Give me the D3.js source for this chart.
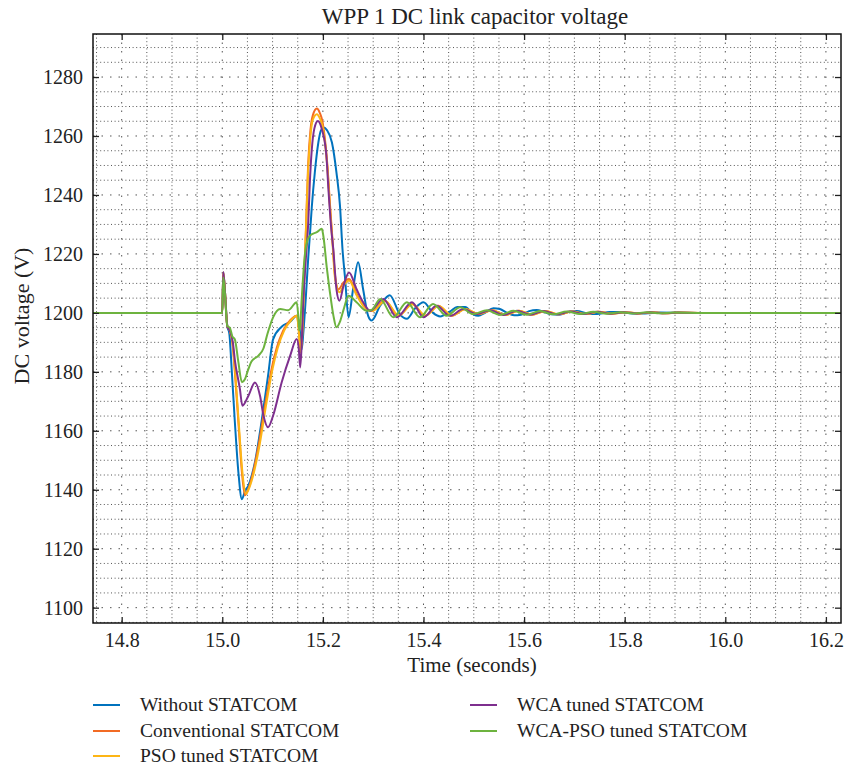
<!DOCTYPE html>
<html>
<head>
<meta charset="utf-8">
<script src="https://cdn.jsdelivr.net/npm/d3@7/dist/d3.min.js"></script>
<style>
  html, body { margin: 0; padding: 0; background: #fff; }
  svg { display: block; font-family: "Liberation Serif", "DejaVu Serif", serif; }
</style>
</head>
<body>
<svg id="chart" width="844" height="771"></svg>
<script>
// WPP 1 DC link capacitor voltage — time samples [s, V] for each controller case
const withoutStatcom = [[14.743,1200],[15.000,1200],[15.002,1213.8],[15.005,1208],[15.010,1195.5],[15.014,1193],[15.019,1180],[15.025,1163],[15.032,1146],[15.039,1136.8],[15.045,1139.5],[15.052,1141.5],[15.065,1149.4],[15.078,1163],[15.091,1178.7],[15.101,1191],[15.118,1195.3],[15.135,1197],[15.148,1199],[15.153,1196],[15.158,1187.7],[15.161,1193],[15.166,1205],[15.171,1219],[15.174,1226],[15.178,1236],[15.184,1247.7],[15.191,1257.8],[15.196,1261.8],[15.202,1262.9],[15.208,1262],[15.218,1257.8],[15.227,1247.6],[15.234,1236.3],[15.239,1221.6],[15.244,1212],[15.251,1198.5],[15.260,1208],[15.270,1217.2],[15.280,1208],[15.290,1199],[15.297,1197.4],[15.314,1202.5],[15.333,1206],[15.353,1199.5],[15.367,1198],[15.383,1201.5],[15.400,1203.6],[15.419,1200],[15.433,1198.8],[15.453,1200.5],[15.467,1202],[15.483,1202],[15.499,1199.5],[15.509,1199],[15.522,1200],[15.539,1201.6],[15.552,1201.3],[15.566,1200],[15.580,1199.2],[15.594,1199.4],[15.610,1200.6],[15.625,1201],[15.640,1200.3],[15.655,1199.5],[15.670,1199.4],[15.690,1200.4],[15.705,1200.6],[15.725,1199.8],[15.745,1199.6],[15.770,1200.3],[15.790,1200.3],[15.815,1199.8],[15.840,1199.8],[15.870,1200.1],[15.920,1200],[16.230,1200]];

const conventionalStatcom = [[14.743,1200],[15.000,1200],[15.002,1213.8],[15.005,1208],[15.010,1195.5],[15.015,1194],[15.020,1190],[15.025,1180],[15.032,1163],[15.039,1146],[15.045,1138.1],[15.050,1139.5],[15.058,1143.7],[15.072,1155],[15.085,1168.6],[15.098,1181],[15.108,1188],[15.121,1194],[15.135,1197.5],[15.148,1199],[15.152,1195],[15.155,1188],[15.158,1190],[15.162,1208],[15.1666,1230],[15.1706,1250],[15.1753,1262],[15.180,1267],[15.188,1269.3],[15.194,1267.8],[15.199,1265],[15.204,1259],[15.209,1250],[15.214,1237],[15.219,1225],[15.224,1213],[15.231,1208],[15.241,1210.3],[15.252,1211.5],[15.267,1206.5],[15.280,1202.5],[15.297,1200.7],[15.323,1204.1],[15.350,1199],[15.377,1203],[15.403,1199],[15.429,1202.4],[15.456,1199],[15.483,1201.3],[15.509,1199.6],[15.536,1200.9],[15.562,1199.3],[15.589,1200.7],[15.615,1199.4],[15.642,1200.6],[15.668,1199.5],[15.695,1200.45],[15.721,1199.6],[15.748,1200.35],[15.774,1199.7],[15.801,1200.25],[15.827,1199.8],[15.854,1200.2],[15.880,1199.85],[15.907,1200.1],[15.950,1200],[16.230,1200]];

const psoStatcom = [[14.743,1200],[15.000,1200],[15.002,1213.5],[15.005,1208],[15.010,1195.5],[15.015,1194],[15.021,1189],[15.026,1179],[15.033,1162],[15.040,1146],[15.047,1138.6],[15.052,1140],[15.060,1144],[15.074,1155],[15.087,1168.6],[15.100,1181],[15.110,1188],[15.123,1194],[15.137,1197.5],[15.148,1199],[15.152,1194],[15.155,1186.5],[15.158,1190],[15.162,1207],[15.1666,1229],[15.1706,1248],[15.1753,1260],[15.180,1265.5],[15.188,1267.4],[15.194,1266],[15.199,1263.5],[15.204,1258],[15.209,1249],[15.214,1236],[15.219,1224],[15.224,1212],[15.233,1207],[15.242,1209.5],[15.252,1211],[15.267,1206],[15.280,1202.5],[15.298,1200.6],[15.324,1204],[15.351,1199.1],[15.378,1202.9],[15.404,1199.1],[15.430,1202.3],[15.457,1199.1],[15.484,1201.3],[15.510,1199.6],[15.537,1200.9],[15.563,1199.3],[15.590,1200.7],[15.616,1199.4],[15.643,1200.6],[15.669,1199.5],[15.696,1200.45],[15.722,1199.6],[15.749,1200.35],[15.775,1199.7],[15.802,1200.25],[15.828,1199.8],[15.855,1200.2],[15.881,1199.85],[15.908,1200.1],[15.950,1200],[16.230,1200]];

const wcaStatcom = [[14.743,1200],[15.000,1200],[15.002,1213.8],[15.005,1208],[15.010,1195.5],[15.015,1194],[15.021,1190],[15.025,1184],[15.035,1174.2],[15.040,1168.5],[15.052,1171.9],[15.065,1176.4],[15.075,1171.9],[15.082,1165.1],[15.091,1161.2],[15.101,1165.1],[15.118,1176.4],[15.135,1185.5],[15.148,1191.1],[15.152,1188],[15.155,1181.5],[15.158,1190],[15.161,1204],[15.166,1218],[15.171,1231],[15.174,1244],[15.178,1255.5],[15.183,1262.5],[15.190,1265.1],[15.198,1262.3],[15.207,1253.3],[15.211,1242],[15.2167,1228.4],[15.2207,1221.6],[15.227,1208],[15.233,1204.1],[15.241,1209.2],[15.252,1213.7],[15.267,1208],[15.280,1203.6],[15.294,1200.7],[15.320,1204.7],[15.347,1198.5],[15.377,1203.6],[15.400,1198.5],[15.426,1202.4],[15.453,1199],[15.479,1201.3],[15.506,1199.6],[15.533,1200.9],[15.559,1199.3],[15.586,1200.7],[15.612,1199.4],[15.639,1200.6],[15.665,1199.5],[15.692,1200.45],[15.718,1199.6],[15.745,1200.35],[15.771,1199.7],[15.798,1200.25],[15.824,1199.8],[15.851,1200.2],[15.877,1199.85],[15.904,1200.1],[15.950,1200],[16.230,1200]];

const wcaPsoStatcom = [[14.743,1200],[15.000,1200],[15.002,1212],[15.005,1207],[15.010,1195.5],[15.015,1195],[15.020,1192],[15.025,1191],[15.032,1183.3],[15.039,1176.5],[15.045,1177.5],[15.052,1181],[15.058,1183.5],[15.072,1185.5],[15.082,1188],[15.090,1193],[15.101,1198.5],[15.115,1201.3],[15.131,1200.9],[15.148,1203.6],[15.151,1199],[15.153,1194],[15.155,1196],[15.158,1205],[15.164,1219.4],[15.170,1225],[15.175,1226.3],[15.188,1227.4],[15.198,1228.5],[15.201,1226],[15.208,1215],[15.214,1207],[15.221,1199],[15.227,1195.1],[15.234,1197],[15.241,1201],[15.251,1205.8],[15.267,1203.6],[15.287,1200.7],[15.297,1201],[15.314,1204.7],[15.340,1198.5],[15.367,1203.6],[15.393,1198.5],[15.419,1203],[15.446,1199],[15.473,1201.9],[15.499,1199.6],[15.526,1200.9],[15.552,1199.3],[15.579,1200.7],[15.605,1199.4],[15.632,1200.6],[15.658,1199.5],[15.685,1200.45],[15.711,1199.6],[15.738,1200.35],[15.764,1199.7],[15.791,1200.25],[15.817,1199.8],[15.844,1200.2],[15.870,1199.85],[15.897,1200.1],[15.950,1200],[16.230,1200]];

const seriesNames = ["Without STATCOM", "Conventional STATCOM", "PSO tuned STATCOM", "WCA tuned STATCOM", "WCA-PSO tuned STATCOM"];
const seriesData = [withoutStatcom, conventionalStatcom, psoStatcom, wcaStatcom, wcaPsoStatcom];
const seriesColors = ["#0072BD", "#F26B24", "#FDB515", "#7E2F8E", "#6DB33F"];

const xTicks = [14.8, 15.0, 15.2, 15.4, 15.6, 15.8, 16.0, 16.2];
const yTicks = [1100, 1120, 1140, 1160, 1180, 1200, 1220, 1240, 1260, 1280];
const xDomain = [14.743, 16.23];
const yDomain = [1094.8, 1294.6];

const titleText = "WPP 1 DC link capacitor voltage";
const xLabel = "Time (seconds)";
const yLabel = "DC voltage (V)";

const svg = d3.select("#chart");
const plot = { left: 93, right: 841, top: 34, bottom: 623 };

const x = d3.scaleLinear().domain(xDomain).range([plot.left, plot.right]);
const y = d3.scaleLinear().domain(yDomain).range([plot.bottom, plot.top]);

// grid: minor every 0.05 s / 5 V (dense dots), major at labelled ticks (sparse dots)
const grid = svg.append("g");
const minorX = d3.range(14.75, 16.2301, 0.05).filter(v => !xTicks.some(t => Math.abs(t - v) < 1e-6));
const minorY = d3.range(1095, 1294.6, 5).filter(v => !yTicks.some(t => Math.abs(t - v) < 1e-6));

grid.selectAll(".vmin").data(minorX).join("line")
  .attr("x1", d => x(d)).attr("x2", d => x(d))
  .attr("y1", plot.top).attr("y2", plot.bottom)
  .attr("stroke", "#555").attr("stroke-width", 1).attr("stroke-dasharray", "1,2.6");
grid.selectAll(".hmin").data(minorY).join("line")
  .attr("x1", plot.left).attr("x2", plot.right)
  .attr("y1", d => y(d)).attr("y2", d => y(d))
  .attr("stroke", "#555").attr("stroke-width", 1).attr("stroke-dasharray", "1,2.6");
grid.selectAll(".vmaj").data(xTicks).join("line")
  .attr("x1", d => x(d)).attr("x2", d => x(d))
  .attr("y1", plot.top).attr("y2", plot.bottom)
  .attr("stroke", "#555").attr("stroke-width", 1).attr("stroke-dasharray", "1.5,7");
grid.selectAll(".hmaj").data(yTicks).join("line")
  .attr("x1", plot.left).attr("x2", plot.right)
  .attr("y1", d => y(d)).attr("y2", d => y(d))
  .attr("stroke", "#555").attr("stroke-width", 1).attr("stroke-dasharray", "1.5,7");

// data lines
svg.append("clipPath").attr("id", "plotClip").append("rect")
  .attr("x", plot.left).attr("y", plot.top)
  .attr("width", plot.right - plot.left).attr("height", plot.bottom - plot.top);

const line = d3.line().x(d => x(d[0])).y(d => y(d[1])).curve(d3.curveMonotoneX);
svg.append("g").attr("clip-path", "url(#plotClip)")
  .selectAll("path").data(seriesData).join("path")
  .attr("d", line)
  .attr("fill", "none")
  .attr("stroke", (d, i) => seriesColors[i])
  .attr("stroke-width", 2)
  .attr("stroke-linejoin", "round");

// axes with inward ticks on all four sides
const tickLen = 6;
const fmtX = d3.format(".1f");
const fmtY = d3.format("d");
svg.append("g").attr("transform", `translate(0,${plot.bottom})`)
  .call(d3.axisBottom(x).tickValues(xTicks).tickFormat(fmtX).tickSizeInner(-tickLen).tickSizeOuter(0).tickPadding(10))
  .call(g => g.select(".domain").remove());
svg.append("g").attr("transform", `translate(0,${plot.top})`)
  .call(d3.axisTop(x).tickValues(xTicks).tickFormat("").tickSizeInner(-tickLen).tickSizeOuter(0))
  .call(g => g.select(".domain").remove());
svg.append("g").attr("transform", `translate(${plot.left},0)`)
  .call(d3.axisLeft(y).tickValues(yTicks).tickFormat(fmtY).tickSizeInner(-tickLen).tickSizeOuter(0).tickPadding(10))
  .call(g => g.select(".domain").remove());
svg.append("g").attr("transform", `translate(${plot.right},0)`)
  .call(d3.axisRight(y).tickValues(yTicks).tickFormat("").tickSizeInner(-tickLen).tickSizeOuter(0))
  .call(g => g.select(".domain").remove());

svg.selectAll(".tick line").attr("stroke", "#222").attr("stroke-width", 1.3);
svg.selectAll(".tick text")
  .attr("font-family", "'Liberation Serif', 'DejaVu Serif', serif")
  .attr("font-size", 20).attr("fill", "#222");

svg.append("rect")
  .attr("x", plot.left).attr("y", plot.top)
  .attr("width", plot.right - plot.left).attr("height", plot.bottom - plot.top)
  .attr("fill", "none").attr("stroke", "#111").attr("stroke-width", 1.5);

// titles
svg.append("text").attr("x", 475).attr("y", 24)
  .attr("text-anchor", "middle").attr("font-size", 23).attr("fill", "#222").text(titleText);
svg.append("text").attr("x", 472).attr("y", 672)
  .attr("text-anchor", "middle").attr("font-size", 21).attr("fill", "#222").text(xLabel);
svg.append("text").attr("transform", `translate(29,316) rotate(-90)`)
  .attr("text-anchor", "middle").attr("font-size", 22).attr("fill", "#222").text(yLabel);

// legend, two columns
const legendPos = [[93, 705], [93, 731], [93, 756], [470, 705], [470, 731]];
const legend = svg.append("g").selectAll("g").data(seriesNames).join("g")
  .attr("transform", (d, i) => `translate(${legendPos[i][0]},${legendPos[i][1]})`);
legend.append("line").attr("x1", 0).attr("x2", 27).attr("y1", 0).attr("y2", 0)
  .attr("stroke", (d, i) => seriesColors[i]).attr("stroke-width", 2);
legend.append("text").attr("x", 47).attr("y", 6)
  .attr("font-size", 19.5).attr("fill", "#222").text(d => d);
</script>
</body>
</html>
